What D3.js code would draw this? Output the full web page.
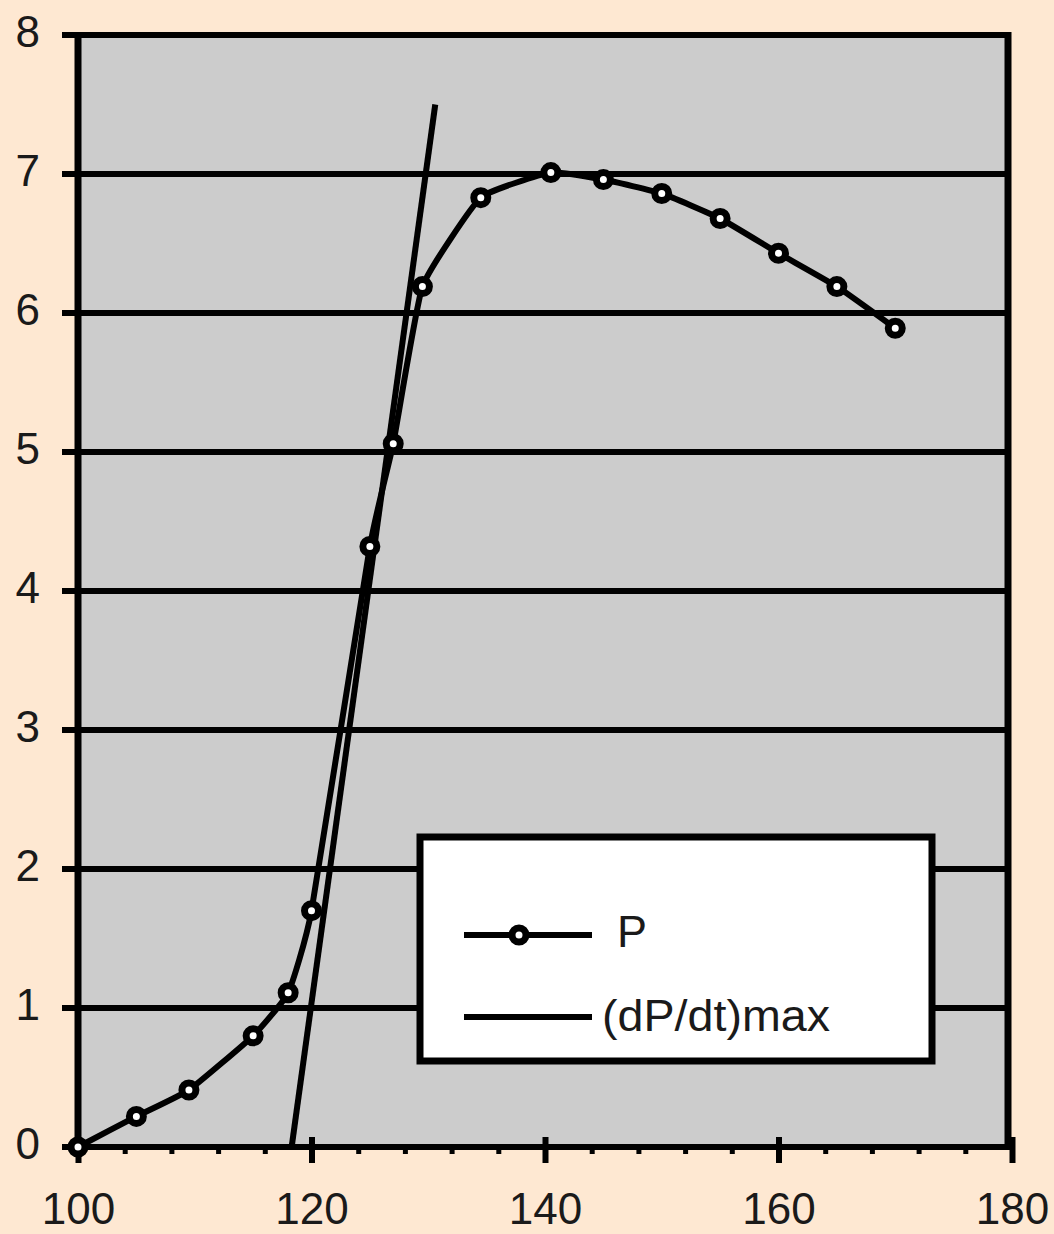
<!DOCTYPE html>
<html>
<head>
<meta charset="utf-8">
<script src="https://cdn.jsdelivr.net/npm/d3@7"></script>
<style>
  html, body { margin: 0; padding: 0; background: #FEE8D2; }
  svg { display: block; }
  text { font-family: "Liberation Sans", Arial, sans-serif; fill: #1a1a1a; }
</style>
</head>
<body>
<svg id="chart" width="1054" height="1234"></svg>
<script>
// ---- data ----
const pX = [100, 105, 109.5, 115, 118, 120, 125, 127, 129.5, 134.5, 140.5, 145, 150, 155, 160, 165, 170];
const pY = [0, 0.22, 0.41, 0.80, 1.11, 1.70, 4.32, 5.06, 6.19, 6.83, 7.01, 6.96, 6.86, 6.68, 6.43, 6.19, 5.89];
const dX = [118.3, 130.6];
const dY = [0, 7.5];
const xTicks = [100, 120, 140, 160, 180];
const xMinorTicks = [104,108,112,116,124,128,132,136,144,148,152,156,164,168,172,176];
const yTicks = [0, 1, 2, 3, 4, 5, 6, 7, 8];
const legendLabels = ["P", "(dP/dt)max"];

const svg = d3.select("#chart");
svg.append("rect").attr("width", 1054).attr("height", 1234).attr("fill", "#FEE8D2");

const x = d3.scaleLinear().domain([100, 180]).range([78, 1012]);
const y = d3.scaleLinear().domain([0, 8]).range([1147, 35]);

const frameL = 78, frameR = 1008, frameT = y(8), frameB = y(0);

// plot area
svg.append("rect")
  .attr("x", frameL).attr("y", frameT)
  .attr("width", frameR - frameL).attr("height", frameB - frameT)
  .attr("fill", "#CCCCCC");

// gridlines
svg.append("g").selectAll("line").data(yTicks).join("line")
  .attr("x1", 62).attr("x2", frameR)
  .attr("y1", d => y(d)).attr("y2", d => y(d))
  .attr("stroke", "#000").attr("stroke-width", 6);

// frame
svg.append("line").attr("x1", frameL).attr("x2", frameL).attr("y1", frameT - 3).attr("y2", frameB + 3)
  .attr("stroke", "#000").attr("stroke-width", 7);
svg.append("line").attr("x1", frameR).attr("x2", frameR).attr("y1", frameT - 3).attr("y2", frameB + 3)
  .attr("stroke", "#000").attr("stroke-width", 7);

// x axis
const xAxisG = svg.append("g").attr("transform", `translate(0,${frameB})`);
xAxisG.append("g")
  .call(d3.axisBottom(x).tickValues(xMinorTicks).tickSize(7).tickFormat(""))
  .call(g => g.select(".domain").remove())
  .call(g => g.selectAll("line").attr("stroke", "#000").attr("stroke-width", 5));
xAxisG.append("g")
  .call(d3.axisBottom(x).tickValues(xTicks).tickSize(16).tickFormat(d3.format("d")))
  .call(g => g.select(".domain").remove())
  .call(g => g.selectAll("line").attr("stroke", "#000").attr("stroke-width", 6).attr("y1", -10))
  .call(g => g.selectAll("text").attr("y", 77).attr("dy", 0)
      .style("font-size", "44px").style("font-family", "'Liberation Sans', Arial, sans-serif").attr("fill", "#1a1a1a"));
svg.append("line").attr("x1", frameL - 3).attr("x2", frameR + 3).attr("y1", frameB).attr("y2", frameB)
  .attr("stroke", "#000").attr("stroke-width", 6);

// y labels
svg.append("g").selectAll("text").data(yTicks).join("text")
  .attr("x", 40).attr("y", d => y(d) + 12)
  .attr("text-anchor", "end")
  .style("font-size", "44px")
  .text(d => d);

// dP/dt max line
const dData = dX.map((v, i) => [v, dY[i]]);
svg.append("path")
  .datum(dData)
  .attr("d", d3.line().x(d => x(d[0])).y(d => y(d[1])))
  .attr("fill", "none").attr("stroke", "#000").attr("stroke-width", 6);

// P line
const pData = pX.map((v, i) => [v, pY[i]]);
svg.append("path")
  .datum(pData)
  .attr("d", d3.line().curve(d3.curveCardinal.tension(0.6)).x(d => x(d[0])).y(d => y(d[1])))
  .attr("fill", "none").attr("stroke", "#000").attr("stroke-width", 6);

svg.append("g").selectAll("circle").data(pData).join("circle")
  .attr("cx", d => x(d[0])).attr("cy", d => y(d[1]))
  .attr("r", 7).attr("fill", "#fff").attr("stroke", "#000").attr("stroke-width", 7);

// legend
const lg = svg.append("g");
lg.append("rect").attr("x", 420).attr("y", 837).attr("width", 512).attr("height", 224)
  .attr("fill", "#fff").attr("stroke", "#000").attr("stroke-width", 7);
lg.append("line").attr("x1", 464).attr("x2", 592).attr("y1", 935).attr("y2", 935)
  .attr("stroke", "#000").attr("stroke-width", 6);
lg.append("circle").attr("cx", 519).attr("cy", 935).attr("r", 7)
  .attr("fill", "#fff").attr("stroke", "#000").attr("stroke-width", 7);
lg.append("text").attr("x", 617).attr("y", 947).style("font-size", "45px").text(legendLabels[0]);
lg.append("line").attr("x1", 464).attr("x2", 592).attr("y1", 1017).attr("y2", 1017)
  .attr("stroke", "#000").attr("stroke-width", 6);
lg.append("text").attr("x", 602).attr("y", 1031).style("font-size", "44px")
  .attr("textLength", 228).attr("lengthAdjust", "spacingAndGlyphs").text(legendLabels[1]);
</script>
</body>
</html>
